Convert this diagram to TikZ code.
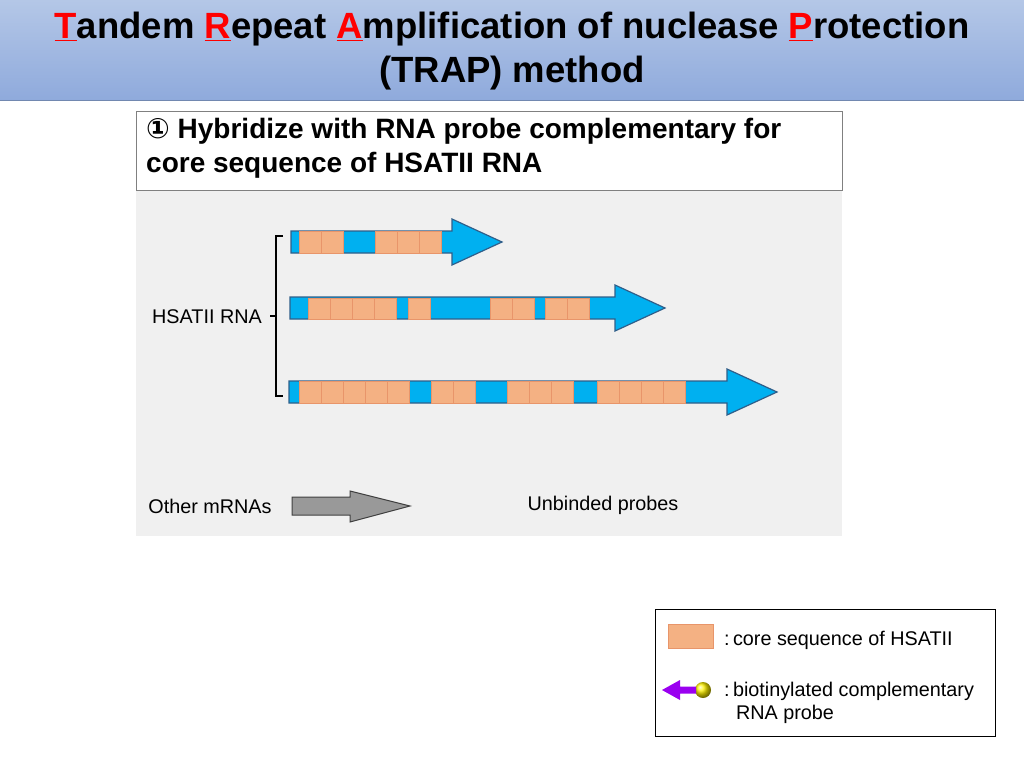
\documentclass[tikz,border=0pt]{standalone}
\usepackage{fontspec}
\setmainfont{Liberation Sans}
\newfontfamily\symfont{DejaVu Sans}
\usepackage{tikz}
\usetikzlibrary{positioning}
\usetikzlibrary{shadings}
\definecolor{rna_blue}{HTML}{00B0F0}
\definecolor{rna_edge}{HTML}{2F5F8A}
\definecolor{core_fill}{HTML}{F4B183}
\definecolor{core_edge}{HTML}{E8956A}
\definecolor{panel_gray}{HTML}{F0F0F0}
\definecolor{title_top}{HTML}{B4C7E7}
\definecolor{title_bot}{HTML}{8FAADC}
\definecolor{probe_violet}{HTML}{9A00F0}
\tikzstyle{rna_strand} = [fill = rna_blue, draw = rna_edge, line width = 1.2pt, line join = miter]
\tikzstyle{core_box} = [fill = core_fill, draw = core_edge, line width = 0.6pt]
\tikzstyle{plain_label} = [font = \fontsize{19.8}{23}\selectfont, inner sep = 0]
\tikzstyle{step_label} = [font = \bfseries\fontsize{28}{34}\selectfont, align = left, anchor = north west, inner sep = 0]
\newcommand{\hl}[1]{\textcolor{red}{\underline{#1}}}
\newcommand{\strandarrow}[4]{%
    \path [rna_strand] (#1, #3 - 11) -- (#4, #3 - 11) -- (#4, #3 - 23) -- (#2, #3) -- (#4, #3 + 23) -- (#4, #3 + 11) -- (#1, #3 + 11) -- cycle;}
\begin{document}
\begin{tikzpicture}[x = 1pt, y = -1pt]
    \useasboundingbox (0, 0) rectangle (1024, 768);
    % title bar
    \shade [top color = title_top, bottom color = title_bot] (0, 0) rectangle (1024, 100);
    \draw [title_bot!80!black, line width = 0.6pt] (0, 100) -- (1024, 100);
    \node (title) [font = \bfseries\fontsize{36.5}{44}\selectfont, align = center, inner sep = 0] at (512, 51)
        {\hl{T}andem \hl{R}epeat \hl{A}mplification of nuclease \hl{P}rotection\\(TRAP) method};
    % step box and panel
    \fill [panel_gray] (136, 190) rectangle (842, 536);
    \draw [fill = white, draw = gray, line width = 0.8pt] (136, 111) rectangle (842, 190);
    \node (step) [step_label] at (146, 118)
        {{\symfont ①} Hybridize with RNA probe complementary for\\core sequence of HSATII RNA};
    % HSATII RNAs
    \strandarrow{291}{502}{242}{452}
    \strandarrow{290}{665}{308}{615}
    \strandarrow{289}{777}{392}{727}
    \foreach \x in {299, 321, 375, 397, 419}
        \draw [core_box] (\x, 231) rectangle ++(22, 22);
    \foreach \x in {308, 330, 352, 374, 408, 490, 512, 545, 567}
        \draw [core_box] (\x, 298) rectangle ++(22, 21);
    \foreach \x in {299, 321, 343, 365, 387, 431, 453, 507, 529, 551, 597, 619, 641, 663}
        \draw [core_box] (\x, 381) rectangle ++(22, 22);
    \draw [line width = 1.2pt] (283, 236) -- (276, 236) -- (276, 396) -- (283, 396);
    \coordinate (brace_mid) at (276, 316);
    \node (hsatii) [plain_label] at (207, 317) {HSATII RNA};
    \draw [line width = 1.2pt] (brace_mid) -- ++(-6, 0);
    % other mRNAs
    \path [fill = gray!80, draw = gray!50!black, line width = 1pt]
        (292, 497) -- (350, 497) -- (350, 491) -- (410, 506) -- (350, 522) -- (350, 515) -- (292, 515) -- cycle;
    \node (other) [plain_label] at (210, 506) {Other mRNAs};
    \node (unbound) [plain_label] at (603, 505) {Unbinded probes};
    % legend
    \draw [line width = 0.8pt] (655, 609) rectangle (995, 736);
    \draw [core_box] (668, 624) rectangle (713, 648);
    \node (leg_core) [plain_label, anchor = west] at (724, 640) {:\,core sequence of HSATII};
    \shade [ball color = yellow!90!orange] (703, 690) circle (8);
    \coordinate (ball) at (696, 690);
    \coordinate (tip) at (662, 690);
    \path [fill = probe_violet] (ball) ++(0, -3.5) -- (680, 686.5) -- (680, 680) -- (tip) -- (680, 700) -- (680, 693.5) -- (696, 693.5) -- cycle;
    \node (leg_probe) [plain_label, anchor = west, align = left] at (724, 703)
        {:\,biotinylated complementary\\\hspace{0.6em}RNA probe};
\end{tikzpicture}
\end{document}
